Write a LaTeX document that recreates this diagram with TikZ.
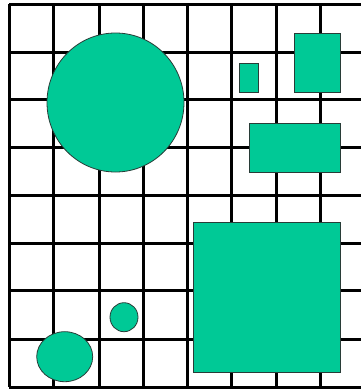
\documentclass[tikz,border=0pt]{standalone}
\usetikzlibrary{shapes.geometric}
\definecolor{teal}{RGB}{0,201,150}
\definecolor{edge}{RGB}{40,60,55}
\tikzset{
  gridline/.style={line width=3pt, black},
  shapefill/.style={fill=teal, draw=edge, line width=0.8pt}
}
\begin{document}
\begin{tikzpicture}[x=1pt,y=-1pt]
\useasboundingbox (0,0) rectangle (361,389);
\fill[white] (0,0) rectangle (361,389);
\begin{scope}
\clip (0,0) rectangle (361,389);
% vertical grid lines
\foreach \x in {9,53,99,143,187,231,276,320}
  \draw[gridline] (\x,4) -- (\x,387);
% horizontal grid lines
\foreach \y in {4,52,99,147,195,243,290,339,387}
  \draw[gridline] (9,\y) -- (365,\y);
\end{scope}
% shapes
\draw[shapefill] (115.5,102.5) circle[x radius=68.5, y radius=69.5];
\draw[shapefill] (239.3,63.3) rectangle (258.7,92.7);
\draw[shapefill] (294,33.3) rectangle (340.7,92.7);
\draw[shapefill] (249,123.3) rectangle (340.7,172.7);
\draw[shapefill] (193.3,222.7) rectangle (340.7,372.3);
\draw[shapefill] (124,317.2) circle[x radius=14, y radius=14.5];
\draw[shapefill] (64.7,356.7) circle[x radius=28, y radius=25];
\end{tikzpicture}
\end{document}
